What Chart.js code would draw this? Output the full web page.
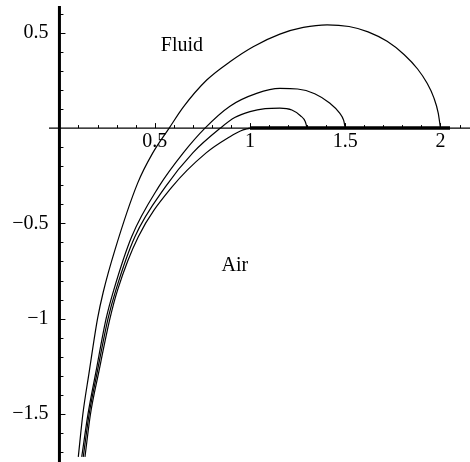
<!DOCTYPE html>
<html>
<head>
<meta charset="utf-8">
<script src="https://cdn.jsdelivr.net/npm/chart.js@4"></script>
<style>
  body { margin: 0; background: #fff; }
  canvas { display: block; }
</style>
</head>
<body>
<canvas id="grafico" width="470" height="462"></canvas>
<script>
// curve values (x, y pairs, bottom to top)
const curveAX = [0.099, 0.123, 0.155, 0.2, 0.23, 0.291, 0.41, 0.49, 0.576, 0.65, 0.773, 0.895, 1.017, 1.157, 1.28, 1.405, 1.52, 1.62, 1.72, 1.81, 1.88, 1.93, 1.965, 1.988, 2.0];
const curveAY = [-1.725, -1.5, -1.287, -1.0, -0.86, -0.64, -0.29, -0.13, 0, 0.11, 0.252, 0.348, 0.427, 0.493, 0.528, 0.542, 0.533, 0.505, 0.455, 0.385, 0.31, 0.235, 0.16, 0.08, 0];
const curveBX = [0.117, 0.15, 0.19, 0.245, 0.285, 0.379, 0.52, 0.65, 0.764, 0.895, 1.035, 1.157, 1.25, 1.34, 1.42, 1.47, 1.492, 1.5];
const curveBY = [-1.725, -1.5, -1.287, -1.0, -0.85, -0.57, -0.31, -0.13, 0, 0.115, 0.182, 0.208, 0.205, 0.18, 0.13, 0.08, 0.04, 0];
const curveCX = [0.125, 0.156, 0.197, 0.255, 0.296, 0.396, 0.555, 0.7, 0.845, 0.92, 1.0, 1.08, 1.157, 1.22, 1.265, 1.29, 1.3];
const curveCY = [-1.725, -1.5, -1.287, -1.0, -0.85, -0.57, -0.31, -0.13, 0, 0.055, 0.086, 0.102, 0.105, 0.095, 0.065, 0.035, 0];
const curveDX = [0.134, 0.163, 0.205, 0.265, 0.305, 0.414, 0.59, 0.77, 0.895, 0.95, 1.0];
const curveDY = [-1.725, -1.5, -1.287, -1.0, -0.85, -0.57, -0.31, -0.13, -0.045, -0.015, 0];
const wallX = [1.0, 2.05]; // thick segment on the axis
const wallY = [0, 0];

const xTickLabels = [0.5, 1, 1.5, 2];
const yTickLabels = [0.5, -0.5, -1, -1.5];
const regionLabels = ['Fluid', 'Air'];
const regionX = [0.643, 0.921];
const regionY = [0.43, -0.72];

function pts(xs, ys) { return xs.map((x, i) => ({x: x, y: ys[i]})); }
function fmt(v) { return String(v).replace('-', '\u2212'); }

const font = '20px "Liberation Serif", "DejaVu Serif", serif';

const ejes = {
  id: 'ejes',
  beforeDatasetsDraw(chart) {
    const c = chart.ctx, xs = chart.scales.x, ys = chart.scales.y;
    const x0 = xs.getPixelForValue(0), y0 = ys.getPixelForValue(0);
    c.save();
    c.strokeStyle = '#000';
    c.fillStyle = '#000';
    // horizontal axis
    c.lineWidth = 1.3;
    c.beginPath();
    c.moveTo(xs.getPixelForValue(-0.055), y0);
    c.lineTo(xs.getPixelForValue(2.16), y0);
    c.stroke();
    // vertical axis
    c.lineWidth = 3;
    c.beginPath();
    c.moveTo(x0, ys.getPixelForValue(0.64));
    c.lineTo(x0, ys.getPixelForValue(-1.76));
    c.stroke();
    // ticks
    c.lineWidth = 1;
    for (let i = 1; i <= 21; i++) {
      const px = Math.round(xs.getPixelForValue(i / 10)) + 0.5;
      const len = i % 5 === 0 ? 5 : 3;
      c.beginPath(); c.moveTo(px, y0); c.lineTo(px, y0 - len); c.stroke();
    }
    for (let i = -17; i <= 6; i++) {
      if (i === 0) continue;
      const py = Math.round(ys.getPixelForValue(i / 10)) + 0.5;
      const len = i % 5 === 0 ? 6 : 4;
      c.beginPath(); c.moveTo(x0, py); c.lineTo(x0 + len, py); c.stroke();
    }
    // tick labels
    c.font = font;
    c.textAlign = 'center';
    c.textBaseline = 'top';
    xTickLabels.forEach(v => c.fillText(fmt(v), xs.getPixelForValue(v), y0 + 4));
    c.textAlign = 'right';
    c.textBaseline = 'middle';
    yTickLabels.forEach(v => c.fillText(fmt(v), x0 - 11, ys.getPixelForValue(v)));
    // region labels
    c.textAlign = 'center';
    regionLabels.forEach((t, i) => c.fillText(t, xs.getPixelForValue(regionX[i]), ys.getPixelForValue(regionY[i])));
    c.restore();
  }
};

const linea = {showLine: true, pointRadius: 0, borderColor: '#000', borderWidth: 1.2, cubicInterpolationMode: 'monotone', fill: false};

const ctx = document.getElementById('grafico').getContext('2d');
const grafico = new Chart(ctx, {
  type: 'scatter',
  data: {
    datasets: [
      Object.assign({label: 'a', data: pts(curveAX, curveAY)}, linea),
      Object.assign({label: 'b', data: pts(curveBX, curveBY)}, linea),
      Object.assign({label: 'c', data: pts(curveCX, curveCY)}, linea),
      Object.assign({label: 'd', data: pts(curveDX, curveDY)}, linea),
      Object.assign({label: 'wall', data: pts(wallX, wallY)}, linea, {borderWidth: 3.5, cubicInterpolationMode: 'default', tension: 0})
    ]
  },
  options: {
    responsive: false,
    animation: false,
    layout: {padding: 0},
    plugins: {legend: {display: false}, tooltip: {enabled: false}},
    scales: {
      x: {type: 'linear', min: -0.312, max: 2.155, display: false},
      y: {type: 'linear', min: -1.752, max: 0.672, display: false}
    }
  },
  plugins: [ejes]
});
</script>
</body>
</html>
